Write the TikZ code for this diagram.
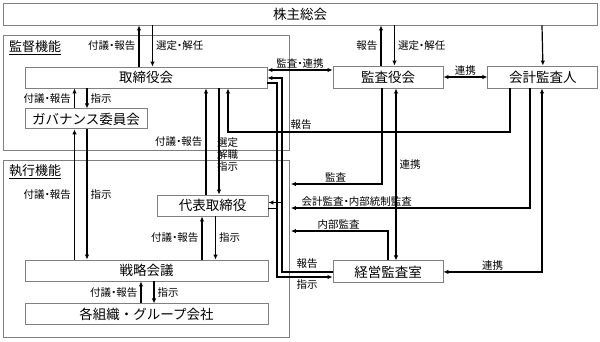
\documentclass[tikz,border=0pt]{standalone}
\usepackage{fontspec}
\setmainfont{Noto Sans CJK JP}
\newfontfamily\lblfont{Noto Sans CJK JP}[RawFeature=+palt]
\usetikzlibrary{positioning,arrows.meta,calc}

\begin{document}
\begin{tikzpicture}[x=1pt, y=-1pt, >={Latex[length=5pt,width=4.5pt]},
  box/.style={draw=gray, line width=0.9pt, fill=white, inner sep=0pt,
    minimum height=21pt, font=\fontsize{13.5}{15}\selectfont},
  grp/.style={draw=gray, line width=0.9pt, inner sep=0pt},
  ttl/.style={anchor=west, inner sep=0pt, font=\fontsize{13}{15}\selectfont},
  lbl/.style={inner xsep=3pt, inner ysep=1pt, font=\lblfont\fontsize{10.5}{12}\selectfont},
  arr/.style={->, line width=1.2pt},
  arr2/.style={<->, line width=1.2pt}]
  \useasboundingbox (0,0) rectangle (600,341);
  % function groups
  \node[grp, minimum width=286pt, minimum height=115pt] (kantoku) at (146,92.5) {};
  \node[grp, minimum width=286pt, minimum height=177pt] (shikko) at (146,248.5) {};
  \node[ttl] (kantokuT) at (9,48) {\underline{監督機能}};
  \node[ttl] (shikkoT) at (9,172) {\underline{執行機能}};
  % bodies
  \node[box, minimum width=594pt, minimum height=22pt] (gm) at (300,14) {株主総会};
  \node[box, minimum width=242pt] (board) at (146,77.5) {取締役会};
  \node[box, minimum width=122pt, minimum height=20pt,
    below right=20pt and 0pt of board.south west] (gov) {ガバナンス委員会};
  \node[box, minimum width=111pt] (rep) at (212.5,205.5) {代表取締役};
  \node[box, minimum width=243pt] (strat) at (146.5,270.5) {戦略会議};
  \node[box, minimum width=243pt, below=22pt of strat] (org) {各組織・グループ会社};
  \node[box, minimum width=110pt, minimum height=22pt] (kansa) at (388,77) {監査役会};
  \node[box, minimum width=110pt, minimum height=22pt, right=44pt of kansa] (audit) {会計監査人};
  \node[box, minimum width=110pt, minimum height=22pt, below=172pt of kansa] (iad) {経営監査室};
  % shareholders
  \draw[arr] (139,0 |- board.north) -- node[lbl,left] (l1) {付議・報告} (139,0 |- gm.south);
  \draw[arr] (152.5,0 |- gm.south) -- node[lbl,right] (l2) {選定・解任} (152.5,0 |- board.north);
  \draw[arr] (381,0 |- kansa.north) -- node[lbl,left] (l3) {報告} (381,0 |- gm.south);
  \draw[arr] (394.5,0 |- gm.south) -- node[lbl,right] (l4) {選定・解任} (394.5,0 |- kansa.north);
  \draw[arr] (542,0 |- gm.south) -- (audit.north);
  \draw[arr2] (kansa.east) -- node[lbl,above] (l5) {連携} (audit.west);
  \draw[arr2] (board.east |- 0,70) -- node[lbl,above] (l6) {監査・連携} (kansa.west |- 0,70);
  % supervision / execution
  \draw[arr] (74.5,0 |- gov.north) -- node[lbl,left] (l7) {付議・報告} (74.5,0 |- board.south);
  \draw[arr] (87,0 |- board.south) -- node[lbl,right] (l8) {指示} (87,0 |- gov.north);
  \draw[arr] (74.5,0 |- strat.north) -- node[lbl,left] (l9) {付議・報告} (74.5,0 |- gov.south);
  \draw[arr] (87,0 |- gov.south) -- node[lbl,right] (l10) {指示} (87,0 |- strat.north);
  \draw[arr] (206,0 |- rep.north) -- node[lbl,left] (l11) {付議・報告} (206,0 |- board.south);
  \draw[arr] (219,0 |- board.south) -- (219,0 |- rep.north);
  \node[lbl, anchor=west, align=left, inner xsep=0pt] (l12) at (217,155) {選定\\解職\\指示};
  \draw[arr] (202,0 |- strat.north) -- node[lbl,left] (l13) {付議・報告} (202,0 |- rep.south);
  \draw[arr] (215.5,0 |- rep.south) -- node[lbl,right] (l14) {指示} (215.5,0 |- strat.north);
  \draw[arr] (141,0 |- org.north) -- node[lbl,left] (l15) {付議・報告} (141,0 |- strat.south);
  \draw[arr] (154,0 |- strat.south) -- node[lbl,right] (l16) {指示} (154,0 |- org.north);
  % audit lines
  \draw[arr] (510,0 |- audit.south) |- (228,132) -- (228,0 |- board.south);
  \node[lbl] (l17) at (301,125) {報告};
  \draw[arr, shorten >=1.5pt] (382,0 |- kansa.south) |- node[lbl,above,pos=.75] (l18) {監査} (shikko.east |- 0,184);
  \draw[arr, shorten >=1.5pt] (530,0 |- audit.south) |- node[lbl,above,pos=.86] (l19) {会計監査・内部統制監査} (shikko.east |- 0,208);
  \draw[arr, shorten >=1.5pt] (iad.north) |- node[lbl,above,pos=.75] (l20) {内部監査} (shikko.east |- 0,231);
  \draw[arr2] (396,0 |- kansa.south) -- node[lbl,right,pos=.44] (l21) {連携} (396,0 |- iad.north);
  \draw[arr2] (542,0 |- audit.south) |- node[lbl,above,pos=.75] (l22) {連携} (iad.east);
  % internal audit office
  \coordinate (busR) at (282,0);
  \coordinate (busL) at (277,0);
  \draw[arr] (iad.west) -| (busR |- 0,78) -- (board.east |- 0,78);
  \draw[arr] (busR |- 0,202.5) -- (rep.east |- 0,202.5);
  \draw[arr] (board.east |- 0,83) -| (busL |- 0,277) -- (iad.west |- 0,277);
  \draw[line width=1.2pt] (rep.east |- 0,208.5) -- (busL |- 0,208.5);
  \node[lbl] (l23) at (307,264) {報告};
  \node[lbl] (l24) at (307,285) {指示};
\end{tikzpicture}
\end{document}
